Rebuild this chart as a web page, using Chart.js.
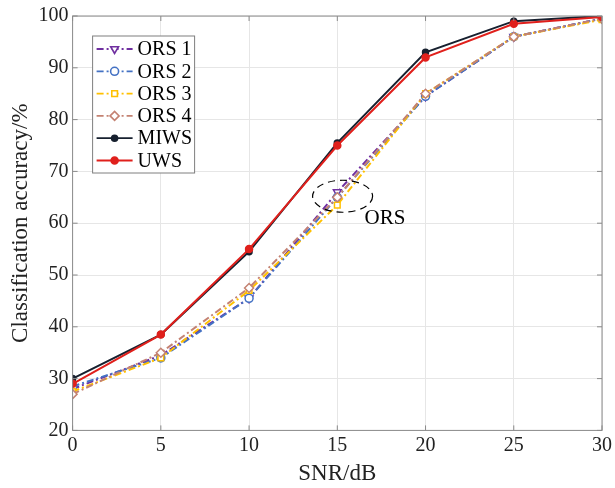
<!DOCTYPE html>
<html>
<head>
<meta charset="utf-8">
<script src="https://cdn.jsdelivr.net/npm/chart.js@4"></script>
<style>
  html, body { margin: 0; padding: 0; background: #fff; }
  #wrap { width: 615px; height: 488px; }
</style>
</head>
<body>
<div id="wrap"><canvas id="graf"></canvas></div>
<script>
// data
const snr = [0, 5, 10, 15, 20, 25, 30];
const ors1 = [28.0, 34.5, 45.5, 66.0, 84.5, 96.0, 99.5];
const ors2 = [28.5, 34.0, 45.5, 65.0, 84.5, 96.0, 99.5];
const ors3 = [27.5, 34.0, 47.0, 63.5, 85.0, 96.0, 99.3];
const ors4 = [27.0, 35.0, 47.5, 65.0, 85.0, 96.0, 99.5];
const miws = [30.0, 38.5, 54.5, 75.5, 93.0, 99.0, 100.0];
const uws = [29.0, 38.5, 55.0, 75.0, 92.0, 98.5, 99.8];
const yTicks = [20, 30, 40, 50, 60, 70, 80, 90, 100];

const serif = '"Liberation Serif", "DejaVu Serif", serif';
const dashDot = [7, 3, 2, 3];

function body(values) {
    return values.map((v, i) => ({x: snr[i], y: v}));
}

const serie = [
    {label: 'ORS 1', data: body(ors1), color: '#7030a0', style: 'triangle', rot: 180, fill: '#fff', radius: 4.5, dash: dashDot, order: 5},
    {label: 'ORS 2', data: body(ors2), color: '#4472c4', style: 'circle', rot: 0, fill: '#fff', radius: 4, dash: dashDot, order: 4},
    {label: 'ORS 3', data: body(ors3), color: '#ffc000', style: 'rect', rot: 0, fill: '#fff', radius: 4, dash: dashDot, order: 3},
    {label: 'ORS 4', data: body(ors4), color: '#c48272', style: 'rectRot', rot: 0, fill: '#fff', radius: 4.5, dash: dashDot, order: 2},
    {label: 'MIWS', data: body(miws), color: '#17202f', style: 'circle', rot: 0, fill: '#17202f', radius: 3, dash: [], order: 1},
    {label: 'UWS', data: body(uws), color: '#e0201c', style: 'circle', rot: 0, fill: '#e0201c', radius: 3.5, dash: [], order: 0}
];

// legend inside the plot + frame + ORS ellipse
const okraj = {
    id: 'okraj',
    afterDraw(chart) {
        const c = chart.ctx;
        const a = chart.chartArea;
        const sx = chart.scales.x, sy = chart.scales.y;
        c.save();
        // frame with inward ticks
        c.strokeStyle = '#8a8a8a';
        c.lineWidth = 1;
        c.strokeRect(a.left, a.top, a.right - a.left, a.bottom - a.top);
        snr.forEach(v => {
            const px = sx.getPixelForValue(v);
            c.beginPath();
            c.moveTo(px, a.bottom); c.lineTo(px, a.bottom - 5);
            c.moveTo(px, a.top); c.lineTo(px, a.top + 5);
            c.stroke();
        });
        yTicks.forEach(v => {
            const py = sy.getPixelForValue(v);
            c.beginPath();
            c.moveTo(a.left, py); c.lineTo(a.left + 5, py);
            c.moveTo(a.right, py); c.lineTo(a.right - 5, py);
            c.stroke();
        });

        // dashed ellipse around ORS at 15 dB
        const ex = sx.getPixelForValue(15.3), ey = sy.getPixelForValue(65.2);
        c.strokeStyle = '#000';
        c.lineWidth = 1.2;
        c.setLineDash([7, 5]);
        c.beginPath();
        c.ellipse(ex, ey, 30, 16, 0, 0, Math.PI * 2);
        c.stroke();
        c.setLineDash([]);
        c.fillStyle = '#000';
        c.font = '21px ' + serif;
        c.textBaseline = 'middle';
        c.fillText('ORS', ex + 22, ey + 22);

        // legend box
        const bx = a.left + 20, by = a.top + 20, bw = 102, bh = 137;
        c.fillStyle = '#fff';
        c.fillRect(bx, by, bw, bh);
        c.strokeStyle = '#7f7f7f';
        c.lineWidth = 1;
        c.strokeRect(bx, by, bw, bh);
        serie.forEach((s, i) => {
            const ry = by + 13 + i * 22.3;
            c.strokeStyle = s.color;
            c.lineWidth = 1.8;
            c.setLineDash(s.dash);
            c.beginPath();
            c.moveTo(bx + 4, ry); c.lineTo(bx + 40, ry);
            c.stroke();
            c.setLineDash([]);
            c.fillStyle = s.fill;
            c.lineWidth = 1.6;
            Chart.helpers.drawPoint(c, {pointStyle: s.style, rotation: s.rot, radius: s.radius, borderWidth: 1.6}, bx + 22, ry);
            c.fillStyle = '#000';
            c.font = '20px ' + serif;
            c.textBaseline = 'middle';
            c.fillText(s.label, bx + 45, ry + 1);
        });
        c.restore();
    }
};

const ctx = document.getElementById('graf').getContext('2d');
new Chart(ctx, {
    type: 'line',
    data: {
        datasets: serie.map(s => ({
            label: s.label,
            data: s.data,
            borderColor: s.color,
            backgroundColor: s.fill,
            borderWidth: 2,
            borderDash: s.dash,
            pointStyle: s.style,
            pointRotation: s.rot,
            pointRadius: s.radius,
            pointBorderWidth: 1.5,
            pointBackgroundColor: s.fill,
            pointBorderColor: s.color,
            tension: 0,
            order: s.order
        }))
    },
    options: {
        responsive: true,
        maintainAspectRatio: false,
        animation: false,
        layout: {
            padding: {top: -6, right: 12, left: 7, bottom: 0}
        },
        plugins: {
            legend: {display: false},
            tooltip: {enabled: false}
        },
        scales: {
            x: {
                type: 'linear',
                min: 0,
                max: 30,
                ticks: {
                    stepSize: 5,
                    color: '#222',
                    font: {family: serif, size: 20},
                    padding: 3
                },
                grid: {color: '#e6e6e6', drawTicks: false},
                border: {display: false},
                title: {
                    display: true,
                    text: 'SNR/dB',
                    color: '#222',
                    font: {family: serif, size: 23},
                    padding: {top: 0, bottom: 0}
                }
            },
            y: {
                min: 20,
                max: 100,
                ticks: {
                    stepSize: 10,
                    color: '#222',
                    font: {family: serif, size: 20},
                    padding: 4
                },
                grid: {color: '#e6e6e6', drawTicks: false},
                border: {display: false},
                title: {
                    display: true,
                    text: 'Classification accuracy/%',
                    color: '#222',
                    font: {family: serif, size: 23},
                    padding: {top: 0, bottom: 0}
                }
            }
        }
    },
    plugins: [okraj]
});
</script>
</body>
</html>
